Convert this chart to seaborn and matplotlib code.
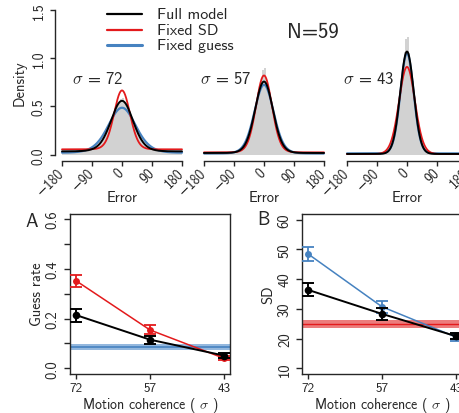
import numpy as np
import matplotlib
matplotlib.use("Agg")
import matplotlib.pyplot as plt
from matplotlib.lines import Line2D
import seaborn as sns

# ---------------- data ----------------
coherence_labels = ["72", "57", "43"]
coherence_pos = [1, 2, 3]

# Guess rate (panel A)
guess_full = [0.214, 0.115, 0.051]
guess_full_err = [0.026, 0.016, 0.010]
guess_fixsd = [0.352, 0.154, 0.040]
guess_fixsd_err = [0.024, 0.018, 0.008]
guess_fixed = 0.084
guess_fixed_err = 0.012

# SD (panel B)
sd_full = [36.4, 28.3, 20.8]
sd_full_err = [2.2, 1.9, 1.0]
sd_fixguess = [48.5, 30.7, 20.5]
sd_fixguess_err = [2.4, 2.0, 1.2]
sd_fixed = 24.9
sd_fixed_err = 1.4

# error histograms, 5-degree bins from -180 to 180
hist_edges = list(range(-180, 181, 5))
hist_72 = [0.040, 0.038, 0.042, 0.040, 0.037, 0.041, 0.040, 0.043, 0.039, 0.041, 0.044, 0.040,
           0.042, 0.045, 0.047, 0.050, 0.060, 0.062, 0.066, 0.070, 0.080, 0.094, 0.112, 0.133,
           0.160, 0.192, 0.228, 0.268, 0.312, 0.358, 0.405, 0.452, 0.492, 0.525, 0.548, 0.575,
           0.585, 0.545, 0.520, 0.490, 0.448, 0.400, 0.355, 0.310, 0.265, 0.225, 0.190, 0.158,
           0.130, 0.110, 0.093, 0.078, 0.070, 0.072, 0.065, 0.052, 0.047, 0.043, 0.041, 0.040,
           0.042, 0.039, 0.040, 0.043, 0.038, 0.041, 0.040, 0.042, 0.039, 0.041, 0.040, 0.038]
hist_57 = [0.021, 0.020, 0.022, 0.019, 0.021, 0.020, 0.022, 0.021, 0.019, 0.020, 0.022, 0.021,
           0.020, 0.022, 0.023, 0.024, 0.026, 0.028, 0.030, 0.034, 0.040, 0.049, 0.063, 0.082,
           0.108, 0.144, 0.190, 0.246, 0.316, 0.394, 0.480, 0.566, 0.648, 0.720, 0.790, 0.880,
           0.900, 0.785, 0.715, 0.645, 0.562, 0.476, 0.392, 0.314, 0.245, 0.188, 0.142, 0.107,
           0.080, 0.062, 0.048, 0.039, 0.033, 0.029, 0.026, 0.024, 0.023, 0.022, 0.021, 0.020,
           0.022, 0.021, 0.019, 0.021, 0.020, 0.022, 0.021, 0.020, 0.019, 0.021, 0.022, 0.020]
hist_43 = [0.009, 0.010, 0.011, 0.010, 0.009, 0.010, 0.011, 0.010, 0.009, 0.010, 0.011, 0.010,
           0.009, 0.010, 0.011, 0.010, 0.010, 0.011, 0.012, 0.012, 0.013, 0.014,
           0.016, 0.021, 0.033, 0.052, 0.085, 0.135, 0.212,
           0.315, 0.445, 0.600, 0.760, 0.920, 1.060, 1.200,
           1.220, 1.050, 0.910, 0.760, 0.595, 0.440, 0.310,
           0.208, 0.134, 0.084, 0.052, 0.033, 0.021, 0.015,
           0.014, 0.013, 0.012, 0.011, 0.010, 0.011, 0.010, 0.009, 0.010, 0.011, 0.010, 0.009,
           0.010, 0.011, 0.010, 0.009, 0.010, 0.011, 0.010, 0.010, 0.009, 0.010]
hist_all = [hist_72, hist_57, hist_43]
sigma_values = ["72", "57", "43"]

BLACK = "#000000"
RED = "#e31a1c"
BLUE = "#4682c0"
RED_BAND = "#ec7c7c"
BLUE_BAND = "#94b8de"
GREY = "#d2d2d2"

# ---------------- style ----------------
sns.set_style("ticks")
plt.rcParams["font.family"] = ["cmss10", "DejaVu Sans"]
plt.rcParams["mathtext.fontset"] = "cm"
plt.rcParams["axes.unicode_minus"] = False
plt.rcParams["axes.linewidth"] = 1.0
plt.rcParams["xtick.major.width"] = 1.0
plt.rcParams["ytick.major.width"] = 1.0

W, H = 459, 414
fig = plt.figure(figsize=(W / 100, H / 100), dpi=100)


def box(l, t, r, b):
    return [l / W, 1 - b / H, (r - l) / W, (b - t) / H]


# von Mises mixture density from guess rate and circular SD
_t = np.linspace(0, np.pi, 4001)


def _i0e(k):
    return np.trapezoid(np.exp(k * (np.cos(_t) - 1)), _t) / np.pi


def _i1e(k):
    return np.trapezoid(np.exp(k * (np.cos(_t) - 1)) * np.cos(_t), _t) / np.pi


def kappa_from_sd(sd_deg):
    target = np.exp(-np.deg2rad(sd_deg) ** 2 / 2)
    lo, hi = 1e-3, 500.0
    for _ in range(80):
        mid = 0.5 * (lo + hi)
        if _i1e(mid) / _i0e(mid) < target:
            lo = mid
        else:
            hi = mid
    return 0.5 * (lo + hi)


def mixture(theta_deg, g, sd_deg):
    k = kappa_from_sd(sd_deg)
    th = np.deg2rad(theta_deg)
    vm = np.exp(k * (np.cos(th) - 1)) / (2 * np.pi * _i0e(k))
    return (1 - g) * vm + g / (2 * np.pi)


theta = np.linspace(-180, 180, 721)
centers = [e + 2.5 for e in hist_edges[:-1]]

top_boxes = [box(55, 5.2, 189, 162), box(197, 5.2, 331, 162), box(340, 5.2, 474, 162)]
label_x = [-150, -192, -192]

for i in range(3):
    ax = fig.add_axes(top_boxes[i])
    sns.histplot(x=centers, weights=hist_all[i], bins=hist_edges, ax=ax, element="step",
                 fill=True, color=GREY, alpha=1, linewidth=0)
    sns.lineplot(x=theta, y=mixture(theta, guess_fixed, sd_fixguess[i]), ax=ax,
                 color=BLUE, linewidth=1.6)
    sns.lineplot(x=theta, y=mixture(theta, guess_fixsd[i], sd_fixed), ax=ax,
                 color=RED, linewidth=1.3)
    sns.lineplot(x=theta, y=mixture(theta, guess_full[i], sd_full[i]), ax=ax,
                 color=BLACK, linewidth=1.4)
    ax.set_xlim(-201, 201)
    ax.set_ylim(-0.065, 1.56)
    ax.spines["top"].set_visible(False)
    ax.spines["right"].set_visible(False)
    ax.spines["bottom"].set_bounds(-180, 180)
    ax.set_xticks([-180, -90, 0, 90, 180])
    ax.set_xticklabels(["\u2212180", "\u221290", "0", "90", "180"], rotation=45,
                       ha="right", va="center", rotation_mode="anchor", fontsize=10)
    ax.tick_params(axis="x", direction="out", length=3.6, pad=3)
    ax.set_xlabel("Error", fontsize=10.5)
    ax.xaxis.set_label_coords(0.5, -0.185)
    ax.xaxis.label.set_va("top")
    if i == 0:
        ax.spines["left"].set_bounds(0, 1.5)
        ax.set_yticks([0, 0.5, 1.0, 1.5])
        ax.set_yticklabels(["0.0", "0.5", "1.0", "1.5"], rotation=90, va="center", fontsize=10)
        ax.tick_params(axis="y", direction="out", length=3.6, pad=3)
        ax.set_ylabel("Density", fontsize=10.5)
        ax.yaxis.set_label_coords(-0.215, 0.5)
    else:
        ax.spines["left"].set_visible(False)
        ax.set_yticks([])
        ax.set_ylabel("")
    ax.text(label_x[i], 0.795, r"$\sigma$ = " + sigma_values[i], fontsize=12,
            ha="left", va="center")

# legend (drawn manually)
leg_items = [("Full model", BLACK, 1.6), ("Fixed SD", RED, 1.6), ("Fixed guess", BLUE, 2.2)]
leg_y = [15.3, 31.0, 46.3]
for (lab, col, lw), y in zip(leg_items, leg_y):
    fig.add_artist(Line2D([107 / W, 142 / W], [1 - y / H, 1 - y / H], color=col, lw=lw,
                          transform=fig.transFigure))
    fig.text(157 / W, 1 - y / H, lab, fontsize=11.5, ha="left", va="center")
fig.text(313 / W, 1 - 32 / H, "N=59", fontsize=15, ha="center", va="center")


# ---------------- bottom panels ----------------
def bottom_axes(rect):
    ax = fig.add_axes(rect)
    for s in ax.spines.values():
        s.set_visible(True)
        s.set_linewidth(1.0)
    ax.set_xlim(0.92, 3.08)
    ax.set_xticks(coherence_pos)
    ax.set_xticklabels(coherence_labels, fontsize=9.5)
    ax.tick_params(axis="y", direction="out", length=4.3, pad=3)
    ax.tick_params(axis="x", direction="out", length=3.6, pad=2.5)
    ax.set_xlabel(r"Motion coherence ( $\sigma$ )", fontsize=10)
    ax.xaxis.set_label_coords(0.5, -0.135)
    ax.xaxis.label.set_va("top")
    return ax


axA = bottom_axes(box(70, 214.7, 230, 374.5))
axA.axhspan(guess_fixed - guess_fixed_err, guess_fixed + guess_fixed_err, color=BLUE_BAND, lw=0, zorder=1)
axA.axhline(guess_fixed, color=BLUE, lw=1.2, zorder=1.5)
sns.lineplot(x=coherence_pos, y=guess_fixsd, ax=axA, color=RED, lw=1.1, marker="o",
             markersize=5, markeredgewidth=0, zorder=3)
axA.errorbar(coherence_pos, guess_fixsd, yerr=guess_fixsd_err, fmt="none", ecolor=RED,
             elinewidth=1.3, capsize=4, capthick=1.3, zorder=3)
sns.lineplot(x=coherence_pos, y=guess_full, ax=axA, color=BLACK, lw=1.4, marker="o",
             markersize=5.5, markeredgewidth=0, zorder=4)
axA.errorbar(coherence_pos, guess_full, yerr=guess_full_err, fmt="none", ecolor=BLACK,
             elinewidth=1.4, capsize=4, capthick=1.4, zorder=4)
axA.set_ylim(-0.021, 0.6213)
axA.set_yticks([0, 0.1, 0.2, 0.3, 0.4, 0.5, 0.6])
axA.set_yticklabels(["0.0", "", "0.2", "", "0.4", "", "0.6"], rotation=90, va="center", fontsize=10.5)
axA.set_ylabel("Guess rate", fontsize=10.5)
axA.yaxis.set_label_coords(-0.165, 0.5)

axB = bottom_axes(box(302, 214.7, 462, 374.5))
axB.axhspan(sd_fixed - sd_fixed_err, sd_fixed + sd_fixed_err, color=RED_BAND, lw=0, zorder=1)
axB.axhline(sd_fixed, color=RED, lw=1.0, zorder=1.5)
sns.lineplot(x=coherence_pos, y=sd_fixguess, ax=axB, color=BLUE, lw=1.1, marker="o",
             markersize=5, markeredgewidth=0, zorder=3)
axB.errorbar(coherence_pos, sd_fixguess, yerr=sd_fixguess_err, fmt="none", ecolor=BLUE,
             elinewidth=1.3, capsize=4, capthick=1.3, zorder=3)
sns.lineplot(x=coherence_pos, y=sd_full, ax=axB, color=BLACK, lw=1.4, marker="o",
             markersize=5.5, markeredgewidth=0, zorder=4)
axB.errorbar(coherence_pos, sd_full, yerr=sd_full_err, fmt="none", ecolor=BLACK,
             elinewidth=1.4, capsize=4, capthick=1.4, zorder=4)
axB.set_ylim(8.25, 62.0)
axB.set_yticks([10, 20, 30, 40, 50, 60])
axB.set_yticklabels(["10", "20", "30", "40", "50", "60"], rotation=90, va="center", fontsize=10.5)
axB.set_ylabel("SD", fontsize=10.5)
axB.yaxis.set_label_coords(-0.165, 0.5)

fig.text(32 / W, 1 - 222 / H, "A", fontsize=13.5, ha="center", va="center")
fig.text(263 / W, 1 - 220 / H, "B", fontsize=13.5, ha="center", va="center")

fig.savefig("out.png", dpi=100)
